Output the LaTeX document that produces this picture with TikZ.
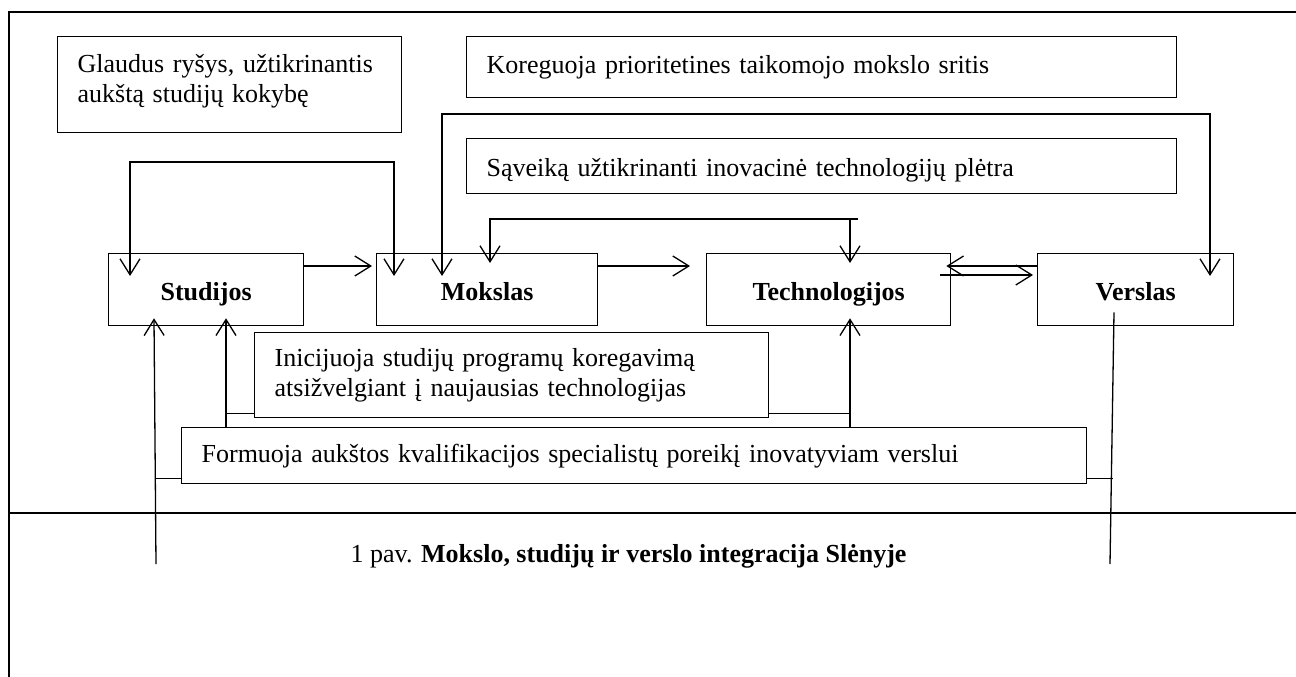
\documentclass[tikz,border=0pt]{standalone}
\usepackage{fontspec}
\setmainfont{Liberation Serif}
\usetikzlibrary{arrows.meta,calc}
\begin{document}
\begin{tikzpicture}[x=1pt,y=-1pt, line width=1.3pt,
  box/.style={draw, line width=1.3pt, inner sep=0pt, anchor=north west},
  txtbox/.style={box, align=left, inner xsep=20pt, font=\fontsize{26}{30}\selectfont},
  lbl/.style={box, minimum height=72pt, font=\fontsize{26}{30}\selectfont\bfseries, text height=22pt, text depth=0pt},
  arr/.style={-{Straight Barb[length=16pt,width=20pt]}},
  arrs/.style={{Straight Barb[length=16pt,width=20pt]}-{Straight Barb[length=16pt,width=20pt]}},
]
\useasboundingbox (0,0) rectangle (1296,677);
% frame
\draw (9,677) -- (9,12) -- (1296,12);
\draw (9,513) -- (1296,513);
% text boxes
\node[txtbox, text width=304pt, minimum height=96pt, text depth=43pt] (glaudus) at (57,36) {Glaudus ryšys, užtikrinantis\\aukštą studijų kokybę};
\node[txtbox, text width=670pt, minimum height=61pt] (koreg) at (466,36) {Koreguoja prioritetines taikomojo mokslo sritis};
\node[txtbox, text width=670pt, minimum height=55pt, text height=20pt, text depth=0pt] (saveika) at (466,138) {Sąveiką užtikrinanti inovacinė technologijų plėtra};
\node[txtbox, text width=474pt, minimum height=85pt] (inic) at (254,332) {Inicijuoja studijų programų koregavimą\\atsižvelgiant į naujausias technologijas};
\node[txtbox, text width=865pt, minimum height=56pt] (form) at (181,427) {Formuoja aukštos kvalifikacijos specialistų poreikį inovatyviam verslui};
% main boxes
\node[lbl, minimum width=195pt] (stud) at (108,253) {Studijos};
\node[lbl, minimum width=221pt] (moks) at (376,253) {Mokslas};
\node[lbl, minimum width=244pt] (tech) at (706,253) {Technologijos};
\node[lbl, minimum width=196pt] (vers) at (1037,253) {Verslas};
% caption
\node[anchor=base west, inner sep=0pt, font=\fontsize{26}{30}\selectfont] (cap) at (350,562) {1 pav. \textbf{Mokslo, studijų ir verslo integracija Slėnyje}};
% loops on top
\draw[arrs] ([xshift=22pt,yshift=-23pt]stud.north west) -- ++(0,-114) -| ([xshift=18pt,yshift=-23pt]moks.north west);
\draw[arrs] ([xshift=66pt,yshift=-23pt]moks.north west) -- ++(0,-162) -| ([xshift=173pt,yshift=-23pt]vers.north west);
\draw[arrs] ([xshift=114pt,yshift=-10pt]moks.north west) -- ++(0,-44) -- ++(360,0) coordinate (cc) -- ([xshift=144pt,yshift=-10pt]tech.north west);
\draw (cc) -- ++(8,0);
% horizontal arrows
\draw[arr, shorten >=4pt] ([yshift=-13pt]stud.north east) -- ([yshift=-13pt]moks.north west);
\draw[arr, shorten >=16pt] ([yshift=-13pt]moks.north east) -- ([yshift=-13pt]tech.north west);
\draw[arr, shorten >=-5pt] ([yshift=-13pt]vers.north west) -- ([yshift=-13pt]tech.north east);
\draw[arr, shorten >=4pt] ([xshift=-11pt,yshift=-22pt]tech.north east) -- ([yshift=-22pt]vers.north west);
% bottom connectors
\coordinate (sl) at (156,564);
\coordinate (vl) at (1110,564);
\draw[arr] (sl) -- ([xshift=46pt,yshift=8pt]stud.south west);
\draw ([yshift=-23pt]form.west) -- ++(-25.5,0);
\draw[arr] ([xshift=45pt]form.north west) -- ([xshift=118pt,yshift=8pt]stud.south west);
\draw ([yshift=5pt]inic.south west) -- ++(-28,0);
\draw[arr] ([xshift=669pt]form.north west) -- ([xshift=144pt,yshift=8pt]tech.south west);
\draw ([yshift=5pt]inic.south east) -- ++(82,0);
\draw ([xshift=77pt,yshift=14pt]vers.south west) -- (vl);
\draw ([yshift=-23pt]form.east) -- ++(26,0);
\end{tikzpicture}
\end{document}
